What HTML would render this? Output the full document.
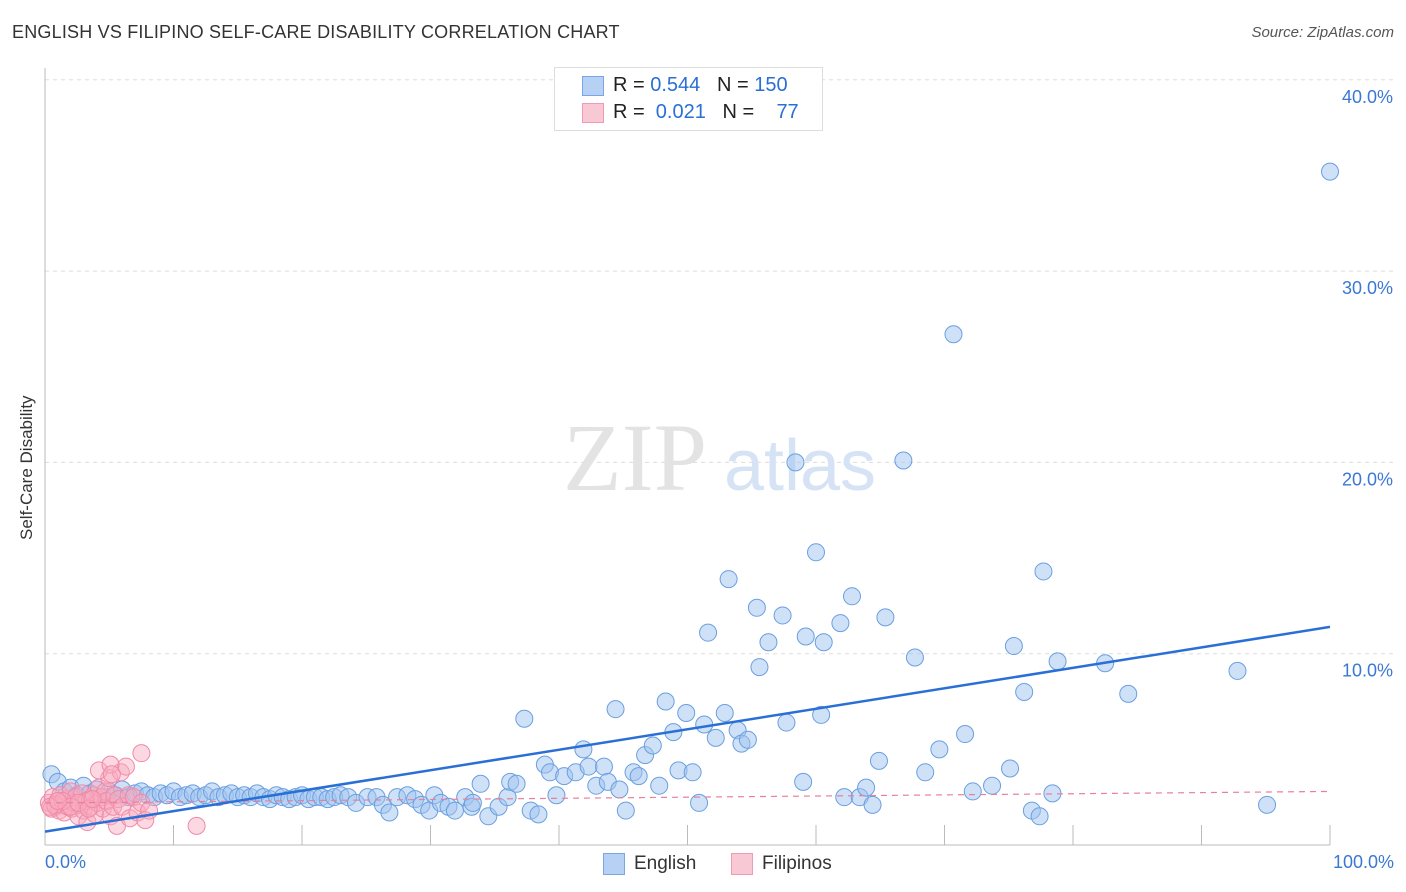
<!DOCTYPE html>
<html><head><meta charset="utf-8"><style>
body{margin:0;background:#fff;font-family:"Liberation Sans",sans-serif;}
#wrap{position:relative;width:1406px;height:892px;overflow:hidden;}
.t{position:absolute;}
</style></head><body>
<div id="wrap">
<div class="t" style="left:12px;top:22px;font-size:18px;color:#333;letter-spacing:0.2px">ENGLISH VS FILIPINO SELF-CARE DISABILITY CORRELATION CHART</div>
<div class="t" style="right:12px;top:24px;font-size:15px;color:#555;font-style:italic">Source: ZipAtlas.com</div>
<svg id="svg" width="1406" height="892" style="position:absolute;left:0;top:0"></svg>
</div>
<script>
const engX=[0.5,1,1.5,2,2.5,3,3.5,4,4.5,5,5.5,6,6.5,7,7.5,8,8.5,9,9.5,10,10.5,11,11.5,12,12.5,13,13.5,14,14.5,15,15.5,16,16.5,17,17.5,18,18.5,19,19.5,20,20.5,21,21.5,22,
22.5,23,23.6,24.2,25.1,25.8,26.3,26.8,27.4,28.2,28.8,29.3,29.9,30.3,30.8,31.4,31.9,32.7,33.2,33.3,33.9,34.5,35.3,36,36.2,36.7,37.3,37.8,38.4,38.9,39.3,39.8,40.4,41.3,41.9,42.3,42.9,43.5,43.8,44.4,44.7,45.2,45.8,46.2,46.7,47.3,47.8,48.3,48.9,49.3,49.9,50.4,50.9,51.3,51.6,52.2,52.9,53.2,53.9,54.2,54.7,55.4,55.6,56.3,57.4,57.7,58.4,59,59.2,60,60.4,60.6,61.9,62.2,62.8,63.4,63.9,64.4,64.9,65.4,66.8,67.7,68.5,69.6,70.7,71.6,72.2,73.7,75.1,75.4,76.2,76.8,77.4,77.7,78.4,78.8,82.5,84.3,92.8,95.1,100];
const engY=[3.7,3.3,2.8,3.0,2.6,3.1,2.7,2.9,2.5,2.8,2.6,2.9,2.5,2.7,2.8,2.6,2.5,2.7,2.6,2.8,2.5,2.6,2.7,2.5,2.6,2.8,2.5,2.6,2.7,2.5,2.6,2.5,2.7,2.5,2.4,2.6,2.5,2.4,2.5,2.6,2.4,2.5,2.5,2.4,
2.5,2.6,2.5,2.2,2.5,2.5,2.1,1.7,2.5,2.6,2.4,2.1,1.8,2.6,2.2,2.0,1.8,2.5,2.0,2.2,3.2,1.5,2.0,2.5,3.3,3.2,6.6,1.8,1.6,4.2,3.8,2.6,3.6,3.8,5.0,4.1,3.1,4.1,3.3,7.1,2.9,1.8,3.8,3.6,4.7,5.2,3.1,7.5,5.9,3.9,6.9,3.8,2.2,6.3,11.1,5.6,6.9,13.9,6.0,5.3,5.5,12.4,9.3,10.6,12.0,6.4,20.0,3.3,10.9,15.3,6.8,10.6,11.6,2.5,13.0,2.5,3.0,2.1,4.4,11.9,20.1,9.8,3.8,5.0,26.7,5.8,2.8,3.1,4.0,10.4,8.0,1.8,1.5,14.3,2.7,9.6,9.5,7.9,9.1,2.1,35.2];
const filX=[0.3,0.5,0.6,0.8,1.0,1.1,1.2,1.4,1.5,1.7,1.8,2.0,2.1,2.3,2.4,2.6,2.7,2.9,3.0,3.2,3.3,3.5,3.6,3.8,3.9,4.1,4.2,4.4,4.5,4.7,4.8,5.0,5.1,5.3,5.4,5.6,5.7,5.9,6.0,6.3,6.5,6.6,6.9,7.2,7.5,7.8,8.1,7.5,11.8,4.2,5.1,5.2,0.8,1.4,2.0,2.6,3.4,3.7,0.4,1.0];
const filY=[2.2,1.9,2.5,2.0,2.3,1.8,2.6,2.1,1.7,2.4,2.0,2.8,1.9,2.2,2.5,1.5,2.1,2.7,1.8,2.3,1.2,2.4,2.0,2.6,1.6,2.2,3.0,2.5,1.9,2.8,2.3,3.5,1.5,2.0,2.6,1.0,2.4,3.8,2.0,4.1,2.6,1.4,2.5,1.7,2.2,1.3,1.8,4.8,1.0,3.9,4.2,3.7,2.1,2.3,2.0,2.2,1.9,2.4,2.0,2.3];
const engLine=[0.7,11.4];
const filLine=[2.2,2.8];
const yTicks=[10,20,30,40];
const xTicks=[0,10,20,30,40,50,60,70,80,90,100];
const X0=45,X1=1330,Y0=845,PX=19.13;
const sx=v=>X0+(X1-X0)*v/100, sy=v=>Y0-PX*v;
const svg=document.getElementById('svg');const NS='http://www.w3.org/2000/svg';
function mk(t,a){const e=document.createElementNS(NS,t);for(const k in a)e.setAttribute(k,a[k]);svg.appendChild(e);return e;}
for(const t of yTicks){
 const g=mk('line',{x1:X0,x2:1395,y1:sy(t),y2:sy(t),stroke:'#ddd','stroke-dasharray':'4,4'});
 
 
 const l=mk('text',{x:1393,y:sy(t)+23,'text-anchor':'end','font-size':18,fill:'#3a78d4','font-family':'Liberation Sans, sans-serif'});
 l.textContent=t.toFixed(1)+'%';
 
 
}
const ax=mk('line',{x1:X0,x2:X0,y1:68,y2:Y0,stroke:'#bbb'});


const bx=mk('line',{x1:X0,x2:X1,y1:Y0,y2:Y0,stroke:'#bbb'});


for(const t of xTicks){
 const k=mk('line',{x1:sx(t),x2:sx(t),y1:Y0-20,y2:Y0,stroke:'#bbb'});
 
 
}
const wm1=mk('text',{x:635,y:490,'text-anchor':'middle','font-size':96,fill:'#e3e3e3','font-family':'Liberation Serif, serif'});
wm1.textContent='ZIP';


const wm2=mk('text',{x:800,y:490,'text-anchor':'middle','font-size':72,fill:'#d6e3f5','font-family':'Liberation Sans, sans-serif'});
wm2.textContent='atlas';


for(let i=0;i<engX.length;i++){
 const c=mk('circle',{cx:sx(engX[i]),cy:sy(engY[i]),r:8.5,fill:'rgba(160,196,240,0.5)',stroke:'#6a9fe0','stroke-width':1});
 
 
}
for(let i=0;i<filX.length;i++){
 const c=mk('circle',{cx:sx(filX[i]),cy:sy(filY[i]),r:8.5,fill:'rgba(248,170,190,0.45)',stroke:'#f08aa8','stroke-width':1});
 
 
}
const fl=mk('line',{x1:sx(0),y1:sy(filLine[0]),x2:sx(100),y2:sy(filLine[1]),stroke:'#e8809c','stroke-width':1.2,'stroke-dasharray':'6,5'});


const el=mk('line',{x1:sx(0),y1:sy(engLine[0]),x2:sx(100),y2:sy(engLine[1]),stroke:'#2a6fd6','stroke-width':2.5});


</script>
<div class="t" style="left:17px;top:540px;transform:rotate(-90deg);transform-origin:0 0;font-size:17px;color:#333;white-space:nowrap">Self-Care Disability</div>
<div class="t" style="left:45px;top:852px;font-size:18px;color:#3a78d4">0.0%</div>
<div class="t" style="right:12px;top:852px;font-size:18px;color:#3a78d4">100.0%</div>
<div class="t" style="left:554px;top:67px;width:267px;height:62px;border:1px solid #ddd;background:#fff;font-size:20px;color:#222">
 <div style="position:absolute;left:27px;top:8px;width:20px;height:18px;background:#b7d1f4;border:1px solid #7aa6e6"></div>
 <div style="position:absolute;left:58px;top:6px">R = <span style="color:#2a6fd6">0.544</span>&nbsp;&nbsp;&nbsp;N = <span style="color:#2a6fd6">150</span></div>
 <div style="position:absolute;left:27px;top:35px;width:20px;height:18px;background:#f9c8d5;border:1px solid #f09ab3"></div>
 <div style="position:absolute;left:58px;top:33px">R = &nbsp;<span style="color:#2a6fd6">0.021</span>&nbsp;&nbsp;&nbsp;N = &nbsp;&nbsp;&nbsp;<span style="color:#2a6fd6">77</span></div>
</div>
<div class="t" style="left:603px;top:853px;width:20px;height:20px;background:#b7d1f4;border:1px solid #7aa6e6"></div>
<div class="t" style="left:634px;top:853px;font-size:19px;color:#333">English</div>
<div class="t" style="left:731px;top:853px;width:20px;height:20px;background:#f9c8d5;border:1px solid #f09ab3"></div>
<div class="t" style="left:762px;top:853px;font-size:19px;color:#333">Filipinos</div>
</body></html>
